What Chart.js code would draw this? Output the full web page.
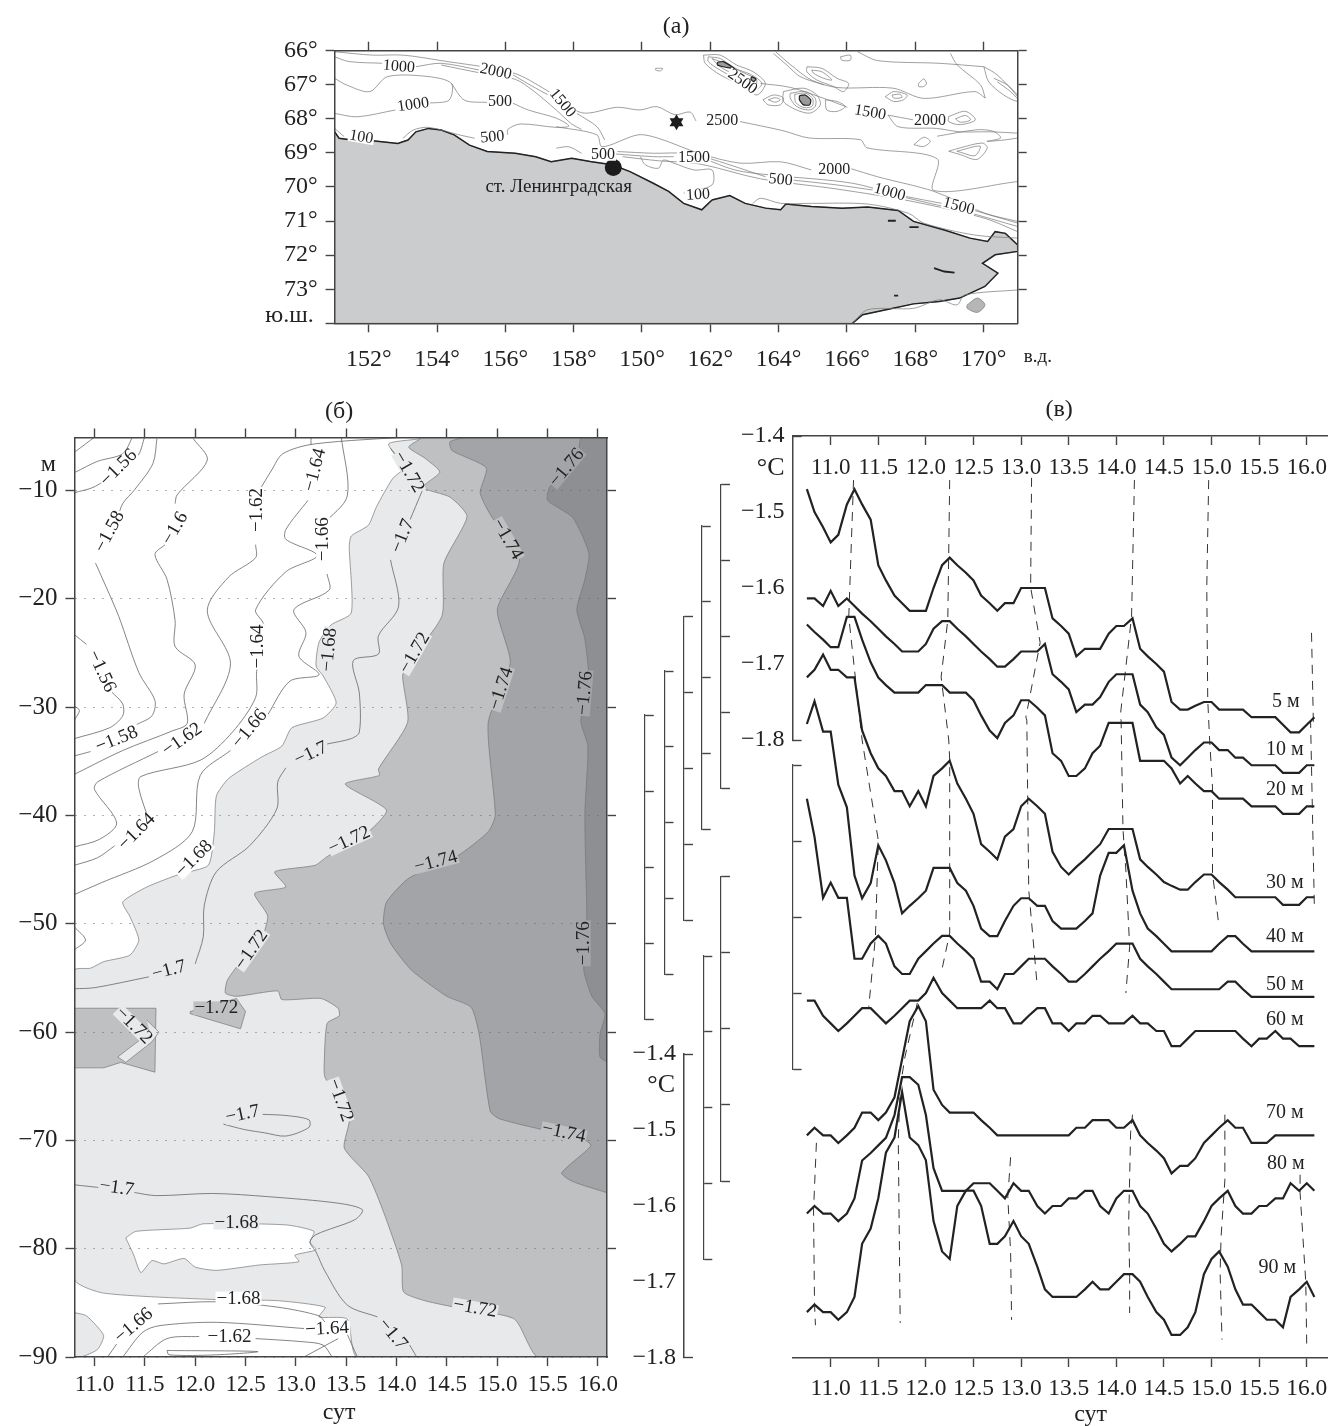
<!DOCTYPE html>
<html>
<head>
<meta charset="utf-8">
<title>Chart</title>
<style>
html, body { margin: 0; padding: 0; background: #fff; }
body { position: relative; width: 1333px; height: 1426px; overflow: hidden; }
canvas { position: absolute; left: 0; top: 0; }
</style>
<script src="https://cdn.jsdelivr.net/npm/chart.js@4/dist/chart.umd.min.js"></script>
</head>
<body>
<canvas id="mapChart" width="1333" height="1426"></canvas>
<canvas id="sectionChart" width="1333" height="1426"></canvas>
<canvas id="seriesChart" width="1333" height="1426"></canvas>
<script>
// ---- panel (a): map, lon / lat
const lonTicks = [152, 154, 156, 158, 160, 162, 164, 166, 168, 170];
const lonLabels = ['152°', '154°', '156°', '158°', '150°', '162°', '164°', '166°', '168°', '170°'];
const latTicks = [66, 67, 68, 69, 70, 71, 72, 73, 74];
const latLabels = ['66°', '67°', '68°', '69°', '70°', '71°', '72°', '73°', ''];

const coast = [[151,68.38],[151.13,68.57],[151.51,68.62],[152.11,68.64],[152.85,68.72],[153.15,68.62],[153.38,68.38],[153.75,68.28],[154.12,68.33],[154.5,68.47],[154.95,68.77],[155.47,68.96],[156.29,69.01],[156.89,69.11],[157.34,69.26],[157.94,69.16],[158.53,69.26],[159.13,69.35],[159.65,69.55],[160.33,69.89],[160.78,70.13],[161.22,70.48],[161.75,70.67],[162.05,70.38],[162.57,70.25],[163.02,70.48],[163.62,70.62],[164.06,70.67],[164.21,70.5],[164.96,70.57],[165.86,70.62],[166.61,70.59],[167.5,70.69],[167.95,71.01],[168.85,71.26],[169.6,71.5],[170.12,71.6],[170.34,71.31],[170.64,71.36],[171,71.7],[171,71.89],[170.34,71.99],[169.97,72.24],[170.42,72.53],[170.04,72.92],[169.3,73.26],[168.7,73.36],[167.95,73.43],[167.35,73.56],[166.46,73.75],[166.16,74]];
const landCorner = [[151,74]];
const islandSmall = [[169.52,73.46],[169.82,73.26],[170.04,73.46],[169.82,73.68],[169.52,73.56],[169.52,73.46]];
const seamountCores = [
  [[162.21,66.34],[162.38,66.32],[162.7,66.52],[162.38,66.47],[162.21,66.42],[162.21,66.34]],
  [[163.21,66.76],[163.34,66.83],[163.26,66.91],[163.19,66.83],[163.21,66.76]],
  [[164.61,67.32],[164.78,67.3],[164.94,67.44],[164.91,67.59],[164.73,67.59],[164.61,67.44],[164.61,67.32]]
];
const islets = [
  [[167.2,70.99],[167.43,70.99]],
  [[167.83,71.18],[168.1,71.18]],
  [[168.55,72.38],[168.85,72.48],[169.15,72.51]],
  [[167.38,73.19],[167.5,73.19]]
];
const isobaths = [
  [[151,66.18],[151.43,66.32],[152.43,66.37],null,[153.38,66.47],[154.12,66.37],[155.25,66.57],null,[156.22,66.71],[156.89,67.1],[157.26,67.3],null,[158.09,67.84],[158.68,68.23],[158.91,68.62]],
  [[154.12,66.42],[155.25,66.65],[156.29,66.84],[156.81,67.17],[157.49,67.74],[157.94,68.15],[158.23,68.31]],
  [[151,66.03],[152.11,66.13],[153,66.13],[154.12,66.29],[156.22,66.65],[157.19,67.15],[158.23,67.82],[159.28,67.66],[159.94,67.74],[160.43,67.64],[160.97,67.88],[161.41,67.8],[161.58,68.06],null,[162.87,68.08],[164.14,68.35],[164.88,68.56],[166.39,68.61],[166.59,68.85],[168.64,69.17],[168.54,70.1],[171,69.84]],
  [[151,67.84],[151.66,67.94],[152.78,67.74],null,[153.75,67.54],[154.35,67.45],[154.42,66.96],[153.75,66.76],[152.55,66.76],[152.03,67.2],[151.36,67.01],[151,66.81]],
  [[154.42,66.96],[154.8,67.45],[155.47,67.52],null,[156.22,67.54],[156.67,67.74],[157.49,67.98],[157.86,68.21],[157.49,68.25],[156.44,68.15],[156.07,68.31],[156.07,68.47],null,[155.1,68.57],[154.65,68.47],[153.75,68.25],[153.3,68.33],[153,68.57]],
  [[151,68.28],[151.28,68.52]],
  [[157.49,68.86],[157.86,68.82],[158.23,69.01],null,[159.21,69.03],[160.33,69.11],[160.93,69.11],null,[161.97,69.16],[162.57,69.35],[163.62,69.7],null,[164.36,69.79],[165.71,69.94],[166.76,70.09],null,[167.73,70.28],[168.77,70.48],null,[169.67,70.67],[171,71.06]],
  [[159.28,68.96],[160.33,69.01],[161.37,69.03],[162.72,69.5],[163.77,69.65],[166.16,69.89],[167.8,70.33],[169.45,70.72],[171,71.16]],
  [[159.43,69.11],[160.48,69.23],[161.67,69.32],[163.47,69.76],[165.71,70.06],[167.95,70.43],[170.04,70.92],[171,71.31]],
  [[157.49,68.23],[158.68,68.47],[158.83,68.82],[159.88,68.47],[160.48,68.57],[161.67,69.01],[162.87,69.3],[164.06,69.26],[164.96,69.5],null,[166.08,69.45],[166.9,69.7],[168.55,70.13],[170.04,70.77],[171,71.01]],
  [[163.24,70.48],[163.47,70.33],[164.06,70.48],[164.96,70.48],[166.61,70.5],[167.8,70.77],[168.25,71.06],[169.74,71.41],[171,71.5]],
  [[159.95,69.11],[160.1,69.35],[160.48,69.45],[160.63,69.21],[160.93,69.3],[161.52,69.5],[162.05,69.5],[162.05,69.94],[161.22,70.18]],
  // seamount rings
  [[161.8,66.13],[162.29,66.13],[162.77,66.42],[163.26,66.62],[163.61,66.96],[163.36,67.3],[162.87,67],[162.29,66.71],[161.85,66.37],[161.8,66.13]],
  [[161.94,66.18],[162.29,66.23],[162.73,66.52],[163.21,66.71],[163.51,66.96],[163.31,67.15],[162.87,66.89],[162.29,66.57],[161.94,66.32],[161.94,66.18]],
  [[162.05,66.23],[162.5,66.4],[162.87,66.6],[163.35,66.85],[163.3,67.05],[162.85,66.78],[162.3,66.48],[162.05,66.23]],
  [[164.14,67.2],[164.73,67.1],[165.12,67.3],[165.22,67.59],[164.93,67.83],[164.53,67.74],[164.14,67.49],[164.14,67.2]],
  [[164.34,67.25],[164.78,67.2],[165.07,67.39],[165.07,67.64],[164.88,67.74],[164.53,67.64],[164.34,67.39],[164.34,67.25]],
  [[164.47,67.28],[164.8,67.25],[165,67.42],[164.98,67.63],[164.75,67.67],[164.5,67.52],[164.47,67.28]],
  [[163.54,67.44],[163.85,67.3],[164.14,67.39],[164.05,67.59],[163.7,67.59],[163.54,67.44]],
  [[163.7,67.44],[163.9,67.38],[164.05,67.44],[163.9,67.51],[163.7,67.44]],
  [[165.37,67.44],[165.71,67.49],[165.95,67.64],[165.71,67.78],[165.41,67.74],[165.37,67.44]],
  [[164.83,66.47],[165.27,66.52],[165.71,66.81],[166.05,66.96],[165.9,67.2],[165.61,67.05],[165.12,66.86],[164.83,66.62],[164.83,66.47]],
  [[164.97,66.57],[165.27,66.62],[165.56,66.86],[165.32,66.81],[165.02,66.66],[164.97,66.57]],
  [[165.81,66.18],[166.1,66.13],[166.1,66.28],[165.85,66.28],[165.81,66.18]],
  [[167.12,67.35],[167.37,67.2],[167.76,67.3],[167.66,67.44],[167.37,67.49],[167.12,67.35]],
  [[167.32,67.3],[167.56,67.28],[167.61,67.37],[167.37,67.39],[167.32,67.3]],
  [[168.98,67.93],[169.47,67.78],[169.76,68.03],[169.32,68.17],[168.98,68.08],[168.98,67.93]],
  [[169.18,68],[169.47,67.9],[169.62,68.03],[169.32,68.1],[169.18,68]],
  [[170.01,66.47],[170.4,66.71],[171,67.35],[171,67.49],[170.59,67.3],[170.15,66.91],[170.01,66.47]],
  [[170.3,66.81],[170.69,67],[171,67.3]],
  [[170.4,66.91],[170.79,67.2],[171,67.41]],
  [[168.1,66.96],[168.25,66.83],[168.33,66.96],[168.25,67.05],[168.1,67.05],[168.1,66.96]],
  [[163.85,66.08],[164.24,66.42],[164.63,66.76],[165.32,67]],
  [[170.05,67.39],[169.91,67],[169.23,66.42],[169.03,66.08]],
  // long isobaths in the east
  [[163.47,66.96],[164.36,67.08],[165.41,67.43],[166.01,67.66],null,[167.2,67.89],[167.95,68.03],null,[168.92,68.05]],
  [[163.91,66.03],[164.36,66.42],[164.96,66.86],[165.71,67.08],[167.35,67.1],[168.25,67.4],[169.74,67.2],[170.05,67.39]],
  [[166.31,66.03],[166.9,66.29],[168.7,66.37],[170.01,66.47]],
  [[167.2,67.89],[167.5,68.23],[168.62,68.28],[169.3,68.38],[170.19,68.38],[171,68.42]],
  [[168.64,68.51],[169.81,68.32],[170.3,68.37],[170.5,68.56],[170.1,68.66],[170.69,68.61],[171,68.56]],
  [[167.96,68.76],[168.25,68.54],[168.44,68.66],[168.25,68.81],[167.96,68.76]],
  [[168.98,68.95],[169.32,68.85],[169.96,68.71],[170.11,68.85],[169.81,69.19],[169.32,69.05],[168.98,68.95]],
  [[169.22,68.95],[169.9,68.8],[169.75,69.08],[169.32,68.98],[169.22,68.95]],
  [[166.16,74],[166.61,73.6],[167.95,73.56],[168.7,73.31],[169.22,73.46],[169.45,73.17],[171,73.02]],
  [[160.4,66.52],[160.6,66.52],[160.55,66.59],[160.4,66.57],[160.4,66.52]]
];
const station = [[159.16, 69.43]];
const shipPoint = [[161.01, 68.1]];
const mapNotes = [
  ['1000',152.88,66.47,5],['2000',155.72,66.62,12],['1500',157.67,67.54,50],['1000',153.3,67.59,-8],
  ['500',155.84,67.5,0],['500',155.62,68.54,-5],['100',151.78,68.54,10],['500',158.86,69.06,0],
  ['1500',161.52,69.14,0],['500',164.06,69.79,5],['2000',165.63,69.5,0],['1000',167.25,70.16,15],
  ['1500',169.27,70.57,15],['100',161.64,70.23,-3],['2500',162.94,66.91,35],['1500',166.68,67.82,10],
  ['2000',168.43,68.05,0],['2500',162.35,68.05,0]
];

// ---- panel (b): temperature section, day / depth
const dayTicks = [11, 11.5, 12, 12.5, 13, 13.5, 14, 14.5, 15, 15.5, 16];
const dayLabels = ['11.0', '11.5', '12.0', '12.5', '13.0', '13.5', '14.0', '14.5', '15.0', '15.5', '16.0'];
const depthTicks = [-10, -20, -30, -40, -50, -60, -70, -80, -90];

const iso168 = [[14.24,-5],[14.24,-5.2],[13.92,-5.7],[14.08,-7.8],[13.96,-8.9],[13.8,-11.5],[13.72,-13.2],[13.55,-14.2],[13.53,-15.2],[13.55,-21.3],[13.35,-22.4],[13.23,-24],[13.2,-26.2],[13.27,-27.1],[13.4,-29.6],[13.27,-31],[12.96,-31.9],[12.86,-33.6],[12.66,-34.6],[12.33,-36.6],[12.21,-38.2],[12.19,-41.5],[12.13,-44.6],[11.85,-45.4],[11.52,-46.6],[11.28,-48],[11.35,-49.3],[11.44,-51.5],[11.35,-52.9],[11.09,-53.5],[10.96,-54.1],[10.8,-54.3],[10.8,-82.8],[11.09,-84.1],[12.21,-84.7],[12.82,-84.8],[13.29,-85.4],[13.23,-86.3],[13.51,-86.5],[13.61,-90],[16.09,-90],[16.09,-5]];
const whiteIsland = [[11.31,-79],[11.41,-78.4],[11.95,-78.1],[12.08,-77.7],[12.9,-77.8],[13.18,-78.4],[13.14,-79.4],[13.2,-80.1],[12.99,-80.6],[13.03,-81.2],[12.64,-81.5],[12.21,-82],[12,-81.7],[11.89,-80.9],[11.69,-81.4],[11.57,-81.1],[11.46,-82.2],[11.39,-80.6],[11.31,-79]];
const lightLobe = [[10.8,-85.9],[10.92,-86.2],[11.09,-88],[11.03,-89.3],[10.87,-90],[10.8,-90]];
const iso172 = [[14.24,-5.2],[14.12,-6],[14.28,-7],[14.43,-8.3],[14.26,-9.7],[14.53,-10.6],[14.7,-12.4],[14.47,-16.7],[14.45,-21.6],[14.12,-25.9],[14.06,-27.1],[14.11,-31.4],[13.82,-35.7],[13.83,-36.3],[13.49,-37.1],[13.9,-39.5],[13.72,-41.5],[13.31,-43.8],[13.19,-44.6],[12.79,-45.2],[12.9,-46.6],[12.59,-47.2],[12.72,-49.3],[12.64,-51.8],[12.47,-53.3],[12.32,-55.2],[12.3,-56.4],[12.41,-56.7],[12.82,-56.2],[12.86,-57],[13.25,-56.9],[13.42,-57.8],[13.43,-58.5],[13.31,-59.2],[13.28,-63.3],[13.29,-64.2],[13.53,-67.9],[13.48,-70.7],[13.72,-73.3],[13.87,-76.6],[14.05,-81.5],[14.07,-84],[14.28,-84.8],[14.63,-85.5],[15.17,-86.5],[15.4,-90],[16.09,-90],[16.09,-5],[14.24,-5]];
const midPatch = [[10.8,-57.8],[11.61,-57.8],[11.6,-63.7],[11.26,-62.8],[11.09,-63.3],[10.8,-63.3],[10.8,-57.8]];
const lightStripe = [[11.52,-58.9],[11.64,-60],[11.57,-60.9],[11.31,-62.8],[11.23,-62.3],[11.44,-60.8],[11.55,-60]];
const midTriangle = [[11.95,-58.1],[12.41,-56.9],[12.5,-58.1],[12.45,-59.7],[11.95,-58.3],[11.95,-58.1]];
const iso174 = [[14.71,-5],[14.53,-5.5],[14.55,-6.3],[14.89,-7.9],[14.83,-10.2],[14.93,-12.2],[15.22,-16.4],[15,-21],[15.13,-25.9],[14.91,-31.4],[14.98,-40],[14.91,-41.5],[14.61,-43.7],[14.12,-45.8],[13.9,-48],[13.87,-50],[13.94,-51.8],[14.15,-54.3],[14.5,-56.7],[14.74,-57.7],[14.82,-60.2],[14.93,-67.3],[15.02,-68],[15.49,-69.1],[15.84,-69.8],[15.93,-70.5],[15.64,-73],[15.75,-73.8],[16.08,-74.8],[16.09,-74.8],[16.09,-5]];
const iso176 = [[15.83,-5],[15.79,-6.7],[15.52,-9.7],[15.5,-10.9],[15.75,-12.5],[15.91,-15.8],[15.87,-18.2],[15.79,-21],[15.87,-23.7],[15.91,-27.7],[15.83,-31.3],[15.9,-33.6],[15.87,-40],[15.89,-49.5],[15.88,-50.9],[15.86,-54.3],[15.94,-56.7],[16.07,-58.3],[16.02,-60.2],[16.02,-62.3],[16.08,-62.7],[16.09,-62.7],[16.09,-5]];

const sectionLines = [
  [[10.8,-10.2],[11.01,-9.6],[11.42,-6.9],[11.5,-5]],
  [[10.81,-8.3],[11.03,-7.3],[11.28,-6.6],[11.38,-5]],
  [[10.81,-6.4],[11.01,-5]],
  [[10.8,-23.3],[10.92,-24.2],null,[11.17,-28.6],[11.28,-29.7],[11.28,-30.8],[11.15,-31.9],[10.8,-32.9]],
  [[10.8,-29.9],[10.85,-30.3],[10.8,-31.2]],
  [[11.62,-5.2],[11.58,-7.5],[11.4,-9.9],[11.28,-11.2],[11.23,-12.5],null,[11.01,-16.7],[11.12,-19],[11.24,-21.6],[11.44,-26.8],[11.6,-29.4],[11.57,-30.8],[11.42,-31.6],null,[10.96,-34.1],[10.8,-34.5]],
  [[11.98,-5.2],[12.12,-7.2],[11.82,-10.4],[11.8,-11.2],null,[11.7,-15],[11.6,-15.9],[11.72,-18.2],[11.8,-22],[11.8,-24.4],[12,-26.1],[11.89,-28.8],[11.92,-31.5],[11.77,-32.2],[11.28,-34],[10.8,-36.2]],
  [[14.2,-5],[13.18,-5.7],[12.87,-6.6],[12.76,-8.1],[12.63,-10.1],null,[12.6,-15],[12.6,-16.2],[12.33,-18],[12.12,-21.1],[12.35,-26],[12.09,-31.5],null,[11.63,-34.1],[11.03,-36.9],[11,-37.6],[11.22,-40.7],[11.05,-42.2],[10.8,-42.9]],
  [[13.15,-5],[13.15,-5.8],null,[13.12,-10.9],[12.9,-13.6],[12.9,-14.5],[13.21,-16],[12.9,-17.5],[12.6,-21],[12.68,-22.4],[12.61,-26.7],[12.6,-29.1],[12.37,-32.3],[12.05,-34.9],[11.46,-36.4],[11.44,-37.5],[11.55,-40.7],null,[11.2,-42.8],[11.03,-43.9],[10.8,-44.6]],
  [[13.45,-5],[13.51,-10.5],[13.27,-13.1],null,[13.31,-17.7],[13.33,-19.2],[12.98,-21],[13.1,-23.1],[13.03,-25.3],[13.23,-27],[12.94,-27.6],[12.72,-30.7],null,[12.35,-34],[12.05,-36.3],[11.97,-41.5],[11.6,-44.1],[11.07,-46.2],[10.8,-47.3]],
  [[14.26,-9.9],[14.12,-13],null,[13.94,-16.4],[14.02,-20.7],[13.82,-23.4],[13.82,-25.1],[13.57,-25.7],[13.63,-28.7],[13.63,-32.3],[13.55,-32.9],[13.31,-33.4],null,[12.9,-35.6],[12.82,-36.9],[12.81,-39.4],[12.54,-42.8],[12.21,-45.2],[12.09,-48.3],[12.08,-51.2],[12,-53.7],null,[11.54,-54.9],[11,-55.9],[10.8,-56]],
  [[10.8,-50.3],[10.91,-51.5],[10.8,-52.4]],
  [[10.8,-74.1],[11.09,-74.4],null,[11.39,-74.8],[11.61,-75.1],[12.17,-74.9],[12.73,-75.2],[13.42,-75.8],[13.66,-76.4],[13.59,-77.3],[13.2,-78.7],[13.14,-79.4],[13.2,-80.3],[13.29,-82.1],[13.51,-85.2],[13.81,-86.3],null,[14.13,-88.9],[14.2,-90]],
  [[12.67,-67.6],[12.9,-67.7],[13.13,-68.1],[13.13,-68.8],[12.9,-69.6],[12.69,-69.3],[12.49,-69],[12.28,-68.5]],
  [[11.13,-90],[11.22,-88.8],null,[11.63,-85.1],[12.21,-84.9],[12.82,-85.4],[13.23,-86.2],[13.29,-86.8]],
  [[11.28,-90],[11.48,-87.7],[11.65,-87.1],[12.21,-86.8],[13.12,-87.4],null,[13.51,-87.9],[13.61,-90]],
  [[11.48,-90],[11.72,-88.3],[12.04,-88.1],null,[12.6,-88.3],[13.08,-88.6],[13.27,-88.9],[13.36,-90]],
  [[11.72,-89.4],[12.62,-89.5],[12.21,-89.8],[11.74,-89.8],[11.72,-89.4]],
  [[13.08,-90],[13.42,-88.3]],
  [[13.94,-6.1],[14.2,-9.6]]
];
const sectionNotes = [
  ['−1.56',11.24,-7.9,-45,'#fff'],['−1.56',11.07,-26.7,65,'#fff'],['−1.58',11.15,-13.8,-62,'#fff'],['−1.58',11.22,-33,-22,'#fff'],
  ['−1.6',11.8,-13.5,-60,'#fff'],['−1.62',12.61,-11.8,-90,'#fff'],['−1.62',11.87,-33,-35,'#fff'],['−1.64',13.19,-8.1,-75,'#fff'],
  ['−1.64',12.62,-24.4,-90,'#fff'],['−1.64',11.42,-41.5,-45,'#fff'],['−1.66',13.27,-14.5,-90,'#fff'],['−1.66',12.54,-32,-50,'#fff'],
  ['−1.68',13.33,-24.7,-85,'#e8e9eb'],['−1.68',11.99,-44,-45,'#fff'],['−1.7',14.06,-14.2,-68,'#e8e9eb'],['−1.7',13.15,-34.3,-25,'#e8e9eb'],
  ['−1.72',14.12,-8.3,60,'#e8e9eb'],['−1.72',14.18,-25,-60,'#e8e9eb'],['−1.72',13.53,-42.3,-25,'#e8e9eb'],['−1.74',15.1,-14.5,60,'#bfc0c2'],
  ['−1.74',15.04,-28.3,-72,'#bfc0c2'],['−1.74',14.39,-44.3,-15,'#bfc0c2'],['−1.76',15.69,-7.9,-50,'#a3a4a8'],['−1.76',15.87,-28.7,-85,'#a3a4a8'],
  ['−1.76',15.86,-51.8,-90,'#a3a4a8'],['−1.7',11.74,-54.3,-15,'#e8e9eb'],['−1.72',12.56,-52.4,-55,'#e8e9eb'],['−1.72',12.21,-57.8,0,'#bfc0c2'],
  ['−1.72',11.39,-59.4,45,'#e8e9eb'],['−1.7',12.47,-67.6,-12,'#e8e9eb'],['−1.72',13.44,-66.3,70,'#e8e9eb'],['−1.74',15.66,-69.3,12,'#bfc0c2'],
  ['−1.7',11.22,-74.4,8,'#e8e9eb'],['−1.68',12.41,-77.6,0,'#e8e9eb'],['−1.68',12.43,-84.6,0,'#fff'],['−1.72',14.78,-85.5,10,'#e8e9eb'],
  ['−1.66',11.39,-87.1,-40,'#fff'],['−1.64',13.31,-87.4,-3,'#fff'],['−1.62',12.34,-88.2,0,'#fff'],['−1.7',13.96,-87.9,50,'#e8e9eb']
];

// ---- panel (в): temperature time series per depth, every depth has its own axis
const tempTicks = [-1.4, -1.5, -1.6, -1.7, -1.8];
const days = [10.75,10.83,10.92,11.00,11.08,11.17,11.25,11.33,11.42,11.50,
  11.58,11.67,11.75,11.83,11.92,12.00,12.08,12.17,12.25,12.33,
  12.42,12.50,12.58,12.67,12.75,12.83,12.92,13.00,13.08,13.17,
  13.25,13.33,13.42,13.50,13.58,13.67,13.75,13.83,13.92,14.00,
  14.08,14.17,14.25,14.33,14.42,14.50,14.58,14.67,14.75,14.83,
  14.92,15.00,15.08,15.17,15.25,15.33,15.42,15.50,15.58,15.67,
  15.75,15.83,15.92,16.00,16.08];
const t5 = [-1.47,-1.50,-1.52,-1.54,-1.53,-1.49,-1.47,-1.49,-1.51,-1.57,
  -1.59,-1.61,-1.62,-1.63,-1.63,-1.63,-1.60,-1.57,-1.56,-1.57,
  -1.58,-1.59,-1.61,-1.62,-1.63,-1.62,-1.62,-1.60,-1.60,-1.60,
  -1.60,-1.64,-1.65,-1.66,-1.69,-1.68,-1.68,-1.68,-1.66,-1.65,
  -1.65,-1.64,-1.68,-1.69,-1.70,-1.71,-1.75,-1.76,-1.76,-1.755,
  -1.75,-1.75,-1.76,-1.76,-1.76,-1.76,-1.77,-1.77,-1.77,-1.77,
  -1.78,-1.79,-1.79,-1.78,-1.77];
const t10 = [-1.55,-1.55,-1.56,-1.54,-1.56,-1.55,-1.56,-1.57,-1.58,-1.59,
  -1.60,-1.61,-1.62,-1.62,-1.62,-1.61,-1.59,-1.58,-1.58,-1.59,
  -1.60,-1.61,-1.62,-1.63,-1.64,-1.64,-1.63,-1.62,-1.62,-1.62,
  -1.61,-1.65,-1.66,-1.67,-1.70,-1.69,-1.69,-1.68,-1.66,-1.65,
  -1.65,-1.65,-1.69,-1.70,-1.72,-1.73,-1.76,-1.77,-1.76,-1.75,
  -1.74,-1.74,-1.75,-1.75,-1.76,-1.76,-1.77,-1.77,-1.77,-1.77,
  -1.78,-1.78,-1.78,-1.77,-1.77];
const t20 = [-1.53,-1.54,-1.55,-1.56,-1.56,-1.52,-1.52,-1.55,-1.58,-1.60,
  -1.61,-1.62,-1.62,-1.62,-1.62,-1.61,-1.61,-1.61,-1.62,-1.62,
  -1.62,-1.63,-1.65,-1.67,-1.68,-1.66,-1.65,-1.63,-1.63,-1.64,
  -1.65,-1.70,-1.71,-1.73,-1.73,-1.72,-1.70,-1.69,-1.66,-1.66,
  -1.66,-1.66,-1.71,-1.71,-1.71,-1.71,-1.72,-1.74,-1.73,-1.74,
  -1.75,-1.75,-1.76,-1.76,-1.76,-1.76,-1.77,-1.77,-1.77,-1.77,
  -1.78,-1.78,-1.78,-1.77,-1.77];
const t30 = [-1.48,-1.47,-1.45,-1.47,-1.47,-1.48,-1.48,-1.55,-1.58,-1.60,
  -1.61,-1.63,-1.63,-1.65,-1.63,-1.65,-1.61,-1.60,-1.59,-1.62,
  -1.64,-1.66,-1.70,-1.71,-1.72,-1.69,-1.68,-1.65,-1.64,-1.65,
  -1.66,-1.71,-1.73,-1.74,-1.73,-1.72,-1.71,-1.70,-1.68,-1.68,
  -1.68,-1.68,-1.72,-1.73,-1.74,-1.75,-1.755,-1.76,-1.76,-1.75,
  -1.74,-1.74,-1.75,-1.76,-1.77,-1.77,-1.77,-1.77,-1.77,-1.77,
  -1.78,-1.78,-1.78,-1.77,-1.77];
const t40 = [-1.47,-1.44,-1.48,-1.48,-1.55,-1.58,-1.67,-1.70,-1.68,-1.63,
  -1.65,-1.68,-1.72,-1.71,-1.70,-1.69,-1.66,-1.66,-1.66,-1.68,
  -1.69,-1.71,-1.74,-1.75,-1.75,-1.73,-1.71,-1.70,-1.70,-1.71,
  -1.71,-1.73,-1.74,-1.74,-1.74,-1.73,-1.72,-1.67,-1.64,-1.64,
  -1.63,-1.69,-1.72,-1.74,-1.75,-1.76,-1.77,-1.77,-1.77,-1.77,
  -1.77,-1.77,-1.76,-1.75,-1.75,-1.76,-1.77,-1.77,-1.77,-1.77,
  -1.77,-1.77,-1.77,-1.77,-1.77];
const t50 = [-1.51,-1.56,-1.64,-1.62,-1.64,-1.64,-1.72,-1.72,-1.70,-1.69,
  -1.70,-1.73,-1.74,-1.74,-1.72,-1.71,-1.70,-1.69,-1.69,-1.70,
  -1.71,-1.72,-1.75,-1.75,-1.76,-1.74,-1.74,-1.73,-1.72,-1.72,
  -1.72,-1.73,-1.74,-1.75,-1.75,-1.74,-1.73,-1.72,-1.71,-1.70,
  -1.70,-1.70,-1.72,-1.73,-1.74,-1.75,-1.76,-1.76,-1.76,-1.76,
  -1.76,-1.76,-1.76,-1.75,-1.75,-1.76,-1.77,-1.77,-1.77,-1.77,
  -1.77,-1.77,-1.77,-1.77,-1.77];
const t60 = [-1.71,-1.71,-1.73,-1.74,-1.75,-1.74,-1.73,-1.72,-1.72,-1.73,
  -1.74,-1.73,-1.72,-1.71,-1.71,-1.70,-1.68,-1.70,-1.71,-1.72,
  -1.72,-1.72,-1.72,-1.71,-1.72,-1.72,-1.74,-1.74,-1.73,-1.72,
  -1.72,-1.74,-1.74,-1.75,-1.74,-1.74,-1.73,-1.73,-1.74,-1.74,
  -1.74,-1.73,-1.74,-1.74,-1.75,-1.75,-1.77,-1.77,-1.76,-1.75,
  -1.75,-1.75,-1.75,-1.75,-1.75,-1.76,-1.77,-1.76,-1.76,-1.75,
  -1.76,-1.76,-1.77,-1.77,-1.77];
const t70 = [-1.74,-1.73,-1.74,-1.74,-1.75,-1.74,-1.73,-1.71,-1.71,-1.72,
  -1.71,-1.69,-1.64,-1.59,-1.57,-1.59,-1.68,-1.70,-1.71,-1.71,
  -1.71,-1.71,-1.72,-1.73,-1.74,-1.74,-1.74,-1.74,-1.74,-1.74,
  -1.74,-1.74,-1.74,-1.74,-1.73,-1.73,-1.72,-1.72,-1.72,-1.73,
  -1.73,-1.72,-1.74,-1.75,-1.76,-1.77,-1.79,-1.78,-1.78,-1.77,
  -1.75,-1.74,-1.73,-1.72,-1.73,-1.73,-1.75,-1.75,-1.75,-1.74,
  -1.74,-1.74,-1.74,-1.74,-1.74];
const t80 = [-1.74,-1.73,-1.74,-1.74,-1.75,-1.74,-1.72,-1.67,-1.66,-1.65,
  -1.64,-1.61,-1.56,-1.56,-1.57,-1.61,-1.68,-1.71,-1.71,-1.71,
  -1.71,-1.70,-1.70,-1.70,-1.71,-1.72,-1.70,-1.71,-1.71,-1.73,
  -1.74,-1.73,-1.73,-1.72,-1.72,-1.71,-1.71,-1.73,-1.74,-1.72,
  -1.71,-1.71,-1.73,-1.74,-1.76,-1.78,-1.79,-1.78,-1.77,-1.77,
  -1.75,-1.73,-1.72,-1.71,-1.73,-1.74,-1.74,-1.73,-1.73,-1.72,
  -1.72,-1.70,-1.71,-1.70,-1.71];
const t90 = [-1.74,-1.73,-1.74,-1.74,-1.75,-1.74,-1.72,-1.65,-1.63,-1.59,
  -1.53,-1.51,-1.45,-1.51,-1.52,-1.54,-1.62,-1.66,-1.67,-1.60,
  -1.58,-1.58,-1.60,-1.65,-1.65,-1.64,-1.62,-1.64,-1.65,-1.68,
  -1.71,-1.72,-1.72,-1.72,-1.72,-1.71,-1.70,-1.71,-1.71,-1.70,
  -1.69,-1.69,-1.70,-1.72,-1.74,-1.75,-1.77,-1.77,-1.76,-1.74,
  -1.69,-1.67,-1.66,-1.68,-1.71,-1.73,-1.73,-1.74,-1.75,-1.75,
  -1.76,-1.72,-1.71,-1.70,-1.72];

// dashed ridges, read against the 5 m axis
const ridges = [
  [[11.24,-1.458],[11.19,-1.638],[11.33,-1.80],[11.50,-1.932],[11.47,-2.059],[11.40,-2.151]],
  [[12.25,-1.458],[12.23,-1.642],[12.16,-1.717],[12.24,-1.80],[12.25,-1.826],[12.25,-2.054],[12.16,-2.107],null,[11.91,-2.146],[11.78,-2.217],[11.73,-2.257],[11.71,-2.326],[11.73,-2.567]],
  [[13.11,-1.455],[13.10,-1.599],[13.20,-1.672],[13.05,-1.770],[13.06,-1.774],[13.08,-1.997],[13.17,-2.125]],
  [[14.19,-1.458],[14.16,-1.638],[14.04,-1.770],[14.05,-1.774],[14.07,-1.918],[14.10,-1.971],[14.14,-2.072],[14.10,-2.133]],
  [[14.97,-1.458],[14.95,-1.599],[14.96,-1.747],[14.98,-1.80],[15.01,-1.862],[15.01,-1.975],[15.07,-2.037]],
  [[16.05,-1.659],[16.07,-1.78],[16.04,-1.774],[16.08,-2.020]],
  [[10.85,-2.33],[10.82,-2.418],[10.83,-2.541],[10.84,-2.570]],
  [[12.89,-2.349],[12.86,-2.401],[12.89,-2.475],[12.90,-2.563]],
  [[14.17,-2.293],[14.15,-2.317],[14.13,-2.432],[14.14,-2.507],[14.14,-2.554]],
  [[15.14,-2.293],[15.14,-2.379],[15.10,-2.454],[15.09,-2.501],[15.11,-2.589]],
  [[15.93,-2.372],[15.93,-2.396],[15.99,-2.514],[16.00,-2.599]]
];
const depthNotes = [
  ['5 м',15.78,-1.75,0],['10 м',15.77,-1.813,0],['20 м',15.77,-1.866,0],['30 м',15.77,-1.988,0],['40 м',15.77,-2.059,0],
  ['50 м',15.77,-2.122,0],['60 м',15.77,-2.168,0],['70 м',15.77,-2.291,0],['80 м',15.78,-2.357,0],['90 м',15.69,-2.494,0]
];

const serif = 'Liberation Serif';
const inkColor = '#222';
const axisColor = '#444';

function toPoints(pairs) {
  return pairs.map(p => p ? { x: p[0], y: p[1] } : { x: NaN, y: NaN });
}

// all scales take no layout room, the plot area comes from layout.padding
function flatAxis(s) {
  s.width = s.isHorizontal() ? s.width : 0;
  s.height = s.isHorizontal() ? 0 : s.height;
  s.paddingLeft = s.paddingRight = s.paddingTop = s.paddingBottom = 0;
  // labels would be clipped to the zero sized box
  s._computeLabelArea = () => undefined;
}

function makeScale(axis, position, range, tickValues, labels, extra) {
  const o = extra || {};
  return {
    type: 'linear', axis: axis, position: position,
    min: range[0], max: range[1], reverse: !!o.reverse,
    afterFit: flatAxis,
    afterBuildTicks: s => { s.ticks = tickValues.map(v => ({ value: v })); },
    border: { display: true, color: axisColor, width: o.borderWidth || 1.5, z: 1, dash: o.gridDash || [] },
    grid: Object.assign({
      display: true, drawOnChartArea: false, drawTicks: true,
      tickLength: 9, tickColor: axisColor, tickWidth: 1.4, z: 1
    }, o.grid || {}),
    ticks: {
      display: !!labels, autoSkip: false, maxRotation: 0, minRotation: 0,
      color: inkColor, padding: o.padding === undefined ? 8 : o.padding,
      font: { family: serif, size: o.size || 24 }, z: 2,
      callback: v => labels ? labels[tickValues.indexOf(v)] : ''
    }
  };
}

function notesPlugin(id, xId, yId, groups) {
  return {
    id: id,
    afterDraw(chart) {
      const ctx = chart.ctx;
      const xs = chart.scales[xId], ys = chart.scales[yId];
      groups.forEach(g => g.items.forEach(n => {
        const bg = n[4] || g.bg;
        ctx.save();
        ctx.translate(xs.getPixelForValue(n[1]), ys.getPixelForValue(n[2]));
        ctx.rotate((n[3] || 0) * Math.PI / 180);
        ctx.font = g.size + 'px "' + serif + '"';
        ctx.textAlign = 'center';
        ctx.textBaseline = 'middle';
        if (bg) {
          const w = ctx.measureText(n[0]).width + 2;
          ctx.fillStyle = bg;
          ctx.fillRect(-w / 2, -g.size * 0.36, w, g.size * 0.72);
        }
        ctx.fillStyle = inkColor;
        ctx.fillText(n[0], 0, 0);
        ctx.restore();
      }));
    }
  };
}

function contour(pairs, color, width, tension) {
  return { data: toPoints(pairs), showLine: true, pointRadius: 0, borderColor: color || '#666', borderWidth: width || 0.8, fill: false, spanGaps: false, tension: tension || 0 };
}

function region(pairs, color, tension) {
  return { data: toPoints(pairs), showLine: true, pointRadius: 0, borderColor: '#777', borderWidth: 0.7, backgroundColor: color, fill: 'shape', tension: tension || 0 };
}

// the list is in paint order, Chart.js paints the lowest order last
function paintOrder(list) {
  return list.map((d, i) => Object.assign(d, { order: list.length - i }));
}

function baseOptions(padding, scales) {
  return {
    responsive: false, animation: false, events: [],
    layout: { padding: padding },
    plugins: { legend: { display: false }, tooltip: { enabled: false } },
    scales: scales
  };
}

// ---- chart (a)
const mapData = [
  region(coast.concat(landCorner), '#cbcccd'),
  contour(coast, '#222', 1.5)
].concat(
  isobaths.map(p => contour(p, '#777', 0.7, 0.3)),
  seamountCores.map(p => Object.assign(region(p, '#999a9c', 0.2), { borderColor: '#222', borderWidth: 1.2 })),
  islets.map(p => contour(p, '#222', 1.8)),
  [region(islandSmall, '#b5b6b8', 0.3)],
  [{ data: toPoints(station), pointRadius: 8.5, pointStyle: 'circle', backgroundColor: '#1c1c1c', borderWidth: 0 },
   { data: toPoints(shipPoint), pointRadius: 8, pointStyle: 'triangle', backgroundColor: '#1c1c1c', borderWidth: 0 },
   { data: toPoints(shipPoint), pointRadius: 8, pointStyle: 'triangle', rotation: 180, backgroundColor: '#1c1c1c', borderWidth: 0 }]
);
new Chart(document.getElementById('mapChart'), {
  type: 'scatter',
  data: { datasets: paintOrder(mapData) },
  options: baseOptions({ left: 334.6, right: 315.3, top: 50.7, bottom: 1102.7 }, {
    x: makeScale('x', 'bottom', [151, 171], lonTicks, lonLabels, { padding: 13 }),
    xTop: makeScale('x', 'top', [151, 171], lonTicks, null),
    y: makeScale('y', 'left', [66, 74], latTicks, latLabels, { reverse: true }),
    yRight: makeScale('y', 'right', [66, 74], latTicks.slice(0, 8), null, { reverse: true })
  }),
  plugins: [notesPlugin('mapNotes', 'x', 'y', [
    { size: 16, bg: '#fff', items: mapNotes },
    { size: 19, items: [['ст. Ленинградская', 157.56, 69.99, 0]] },
    { size: 24, items: [['(а)', 161, 65.3, 0], ['ю.ш.', 149.68, 73.77, 0]] },
    { size: 19, items: [['в.д.', 171.59, 75, 0]] }
  ])]
});

// ---- chart (б)
const sectionData = [
  region(iso168, '#e8e9eb', 0.2),
  region(whiteIsland, '#ffffff', 0.2),
  region(lightLobe, '#e8e9eb', 0.2),
  region(iso172, '#bfc0c2', 0.2),
  region(midPatch, '#bfc0c2'),
  region(lightStripe, '#e8e9eb'),
  region(midTriangle, '#bfc0c2'),
  region(iso174, '#a3a4a8', 0.2),
  region(iso176, '#8e8f93', 0.2)
].concat(sectionLines.map(p => contour(p, '#666', 0.8, 0.3)));
new Chart(document.getElementById('sectionChart'), {
  type: 'scatter',
  data: { datasets: paintOrder(sectionData) },
  options: baseOptions({ left: 74.4, right: 726, top: 437.5, bottom: 69 }, {
    x: makeScale('x', 'bottom', [10.8, 16.09], dayTicks, dayLabels, { size: 23, padding: 5 }),
    xTop: makeScale('x', 'top', [10.8, 16.09], dayTicks, null),
    y: makeScale('y', 'left', [-90, -5.1], depthTicks, depthTicks.map(v => '−' + Math.abs(v)), {
      size: 25,
      gridDash: [1, 8],
      grid: { drawOnChartArea: true, color: '#666', lineWidth: 1 }
    }),
    yRight: makeScale('y', 'right', [-90, -5.1], depthTicks.slice(0, 8), null)
  }),
  plugins: [notesPlugin('sectionNotes', 'x', 'y', [
    { size: 19, items: sectionNotes },
    { size: 24, items: [['(б)', 13.43, -2.7, 0], ['м', 10.54, -7.6, 0], ['сут', 13.43, -95.1, 0]] }
  ])]
});

// ---- chart (в)
const tempLabels = tempTicks.map(v => '−' + Math.abs(v).toFixed(1));
const endTicksOnly = { tickLength: -9, tickColor: c => (c.tick && (c.tick.value === -1.4 || c.tick.value === -1.8)) ? axisColor : 'transparent' };
const tempRange = [-1.8, -1.4];
const depthAxes = {
  y5: { pos: 'left', left: 792.6, top: 436, bottom: 740, series: t5 },
  y10: { pos: 'right', left: 721, top: 484.7, bottom: 788, series: t10 },
  y20: { pos: 'right', left: 701.7, top: 526, bottom: 829, series: t20 },
  y30: { pos: 'right', left: 684, top: 616.7, bottom: 920, series: t30 },
  y40: { pos: 'right', left: 664.5, top: 671, bottom: 974, series: t40 },
  y50: { pos: 'right', left: 644.8, top: 715, bottom: 1019.7, series: t50 },
  y60: { pos: 'right', left: 792.6, top: 765, bottom: 1069, series: t60 },
  y70: { pos: 'right', left: 721, top: 876.7, bottom: 1181, series: t70 },
  y80: { pos: 'right', left: 703.3, top: 956, bottom: 1259, series: t80 },
  y90: { pos: 'left', left: 684, top: 1054, bottom: 1357.7, series: t90 }
};
const seriesScales = {
  x: makeScale('x', 'bottom', [10.6, 16.22], dayTicks, dayLabels, { size: 23.5, padding: 8 }),
  xTop: makeScale('x', 'bottom', [10.6, 16.22], dayTicks, dayLabels, { size: 23, padding: 9 })
};
Object.keys(depthAxes).forEach(id => {
  const a = depthAxes[id];
  const labelled = a.pos === 'left';
  seriesScales[id] = makeScale('y', a.pos, tempRange, tempTicks, labelled ? tempLabels : null, {
    size: 24, padding: 17, borderWidth: labelled ? 1.5 : 1.2, grid: labelled ? endTicksOnly : {}
  });
});

const seriesData = ridges.map(p => Object.assign(contour(p, '#333', 1), { borderDash: [9, 7], xAxisID: 'x', yAxisID: 'y5', clip: false }))
  .concat(Object.keys(depthAxes).map(id => ({
    data: days.map((d, i) => ({ x: d, y: depthAxes[id].series[i] })),
    showLine: true, pointRadius: 0, borderColor: '#222', borderWidth: 2.2,
    xAxisID: 'x', yAxisID: id, clip: false
  })));

const placeAxes = {
  id: 'placeAxes',
  afterLayout(chart) {
    Object.keys(depthAxes).forEach(id => {
      const a = depthAxes[id], s = chart.scales[id];
      s.left = s.right = a.left;
      s.width = 0;
      s.top = a.top;
      s.bottom = a.bottom;
      s.height = a.bottom - a.top;
      s.configure();
    });
    const t = chart.scales.xTop;
    t.top = t.bottom = 436;
    t.height = 0;
    t.configure();
  }
};

new Chart(document.getElementById('seriesChart'), {
  type: 'scatter',
  data: { datasets: paintOrder(seriesData) },
  options: baseOptions({ left: 792.6, right: 5.3, top: 436, bottom: 68 }, seriesScales),
  plugins: [placeAxes, notesPlugin('seriesNotes', 'x', 'y5', [
    { size: 20, items: depthNotes },
    { size: 24, items: [['(в)', 13.4, -1.366, 0], ['сут', 13.73, -2.688, 0]] },
    { size: 26, items: [['°C', 10.37, -1.442, 0], ['°C', 9.22, -2.254, 0]] }
  ])]
});
</script>
</body>
</html>
